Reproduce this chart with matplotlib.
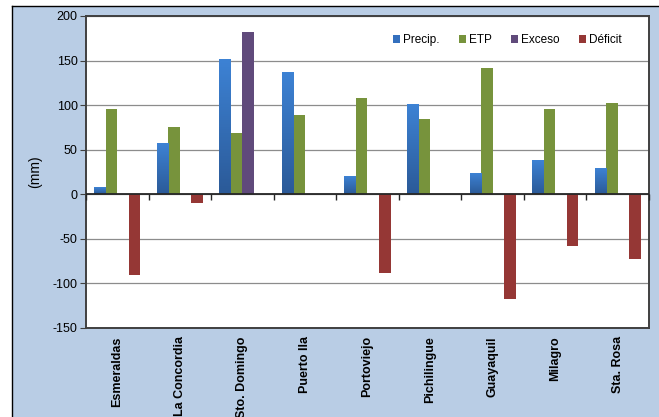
import numpy as np
import matplotlib
matplotlib.use("Agg")
import matplotlib.pyplot as plt
from matplotlib.lines import Line2D

plt.rcParams["font.family"] = ["Liberation Sans", "DejaVu Sans"]
plt.rcParams["axes.unicode_minus"] = False

# Water balance per station (mm)
stations = ["Esmeraldas", "La Concordia", "Sto. Domingo", "Puerto Ila", "Portoviejo",
            "Pichilingue", "Guayaquil", "Milagro", "Sta. Rosa"]
precip = [7, 57, 151, 136, 20, 100, 23, 38, 29]
etp = [96, 75, 69, 89, 108, 84, 142, 96, 102]
exceso = [0, 0, 182, 0, 0, 0, 0, 0, 0]
deficit = [-90, -10, 0, 0, -88, 0, -118, -58, -73]

series = [("Precip.", precip, "#3470BE"),
          ("ETP", etp, "#77933C"),
          ("Exceso", exceso, "#604A7B"),
          ("Déficit", deficit, "#953735")]

bg = "#B9CDE5"
fig = plt.figure(figsize=(6.59, 4.17), dpi=100, facecolor="white")
# blue chart area with black outer border (cropped at right/bottom)
fig.patches.append(plt.Rectangle((12 / 659, 0), 1, 1 - 6 / 417, transform=fig.transFigure,
                                 facecolor=bg, edgecolor="none", zorder=-10))
fig.lines.append(Line2D([12 / 659, 12 / 659], [0, 1 - 6 / 417], transform=fig.transFigure,
                        color="black", lw=1.0))
fig.lines.append(Line2D([12 / 659, 1], [1 - 6 / 417, 1 - 6 / 417], transform=fig.transFigure,
                        color="black", lw=1.0))

ax = fig.add_axes([86 / 659, 89 / 417, 563 / 659, 312 / 417])
ax.set_facecolor("white")

x = np.arange(len(stations))
w = 0.184
handles = []
for i, (name, vals, col) in enumerate(series):
    bars = ax.bar(x + (i - 1.5) * w, vals, w, color=col, zorder=3, label=name)
    handles.append(bars)
    if name == "Precip.":
        # vertical gradient on the blue bars
        grad = np.linspace(0, 1, 64).reshape(-1, 1)
        cmap = matplotlib.colors.LinearSegmentedColormap.from_list("b", ["#2B5A98", "#3D82D4"])
        for b in bars:
            x0, y0 = b.get_x(), b.get_y()
            ax.imshow(grad, extent=[x0, x0 + b.get_width(), y0, y0 + b.get_height()],
                      origin="lower", aspect="auto", cmap=cmap, zorder=3.5)

ax.set_xlim(-0.5, len(stations) - 0.5)
ax.set_ylim(-150, 200)
ax.set_yticks(np.arange(-150, 201, 50))
ax.grid(axis="y", color="#8C8C8C", lw=0.9, zorder=1)
ax.axhline(0, color="#262626", lw=1.3, zorder=4)
# category boundary ticks on the zero line
ax.plot(np.arange(len(stations) + 1) - 0.5, np.zeros(len(stations) + 1), ls="none",
        marker=3, ms=4, mew=1, color="#262626", zorder=4, clip_on=False)

ax.set_xticks(x)
ax.set_xticklabels(stations, rotation=90, fontsize=9, fontweight="bold")
ax.tick_params(axis="x", length=0, pad=6)
ax.tick_params(axis="y", length=4, labelsize=9, color="#404040", pad=2)
for s in ax.spines.values():
    s.set_color("#404040")
    s.set_linewidth(1.4)

ax.set_ylabel("(mm)", fontsize=10)
ax.yaxis.set_label_coords(-44 / 563, 0.5)

ax.legend(handles=handles, loc="center", bbox_to_anchor=(0.748, 0.923), ncol=4,
          frameon=False, fontsize=8.5, handlelength=0.6, handleheight=0.6,
          handletextpad=0.25, columnspacing=1.65)

fig.savefig("out.png", dpi=100, facecolor=fig.get_facecolor())
